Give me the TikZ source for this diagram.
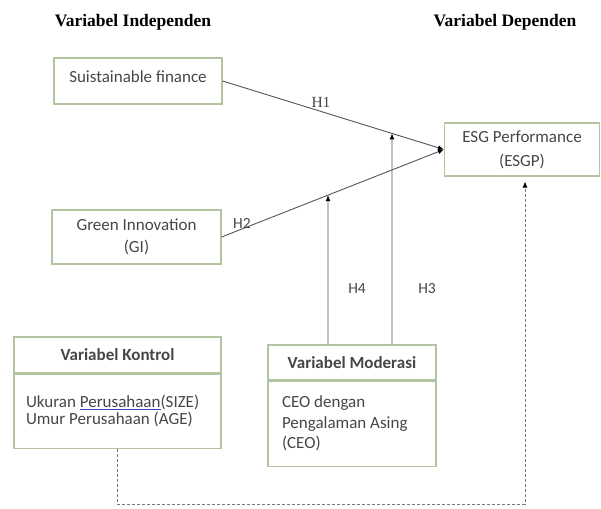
\documentclass[tikz,border=0pt]{standalone}
\usepackage{fontspec}
\setmainfont{Carlito}
\newfontfamily\headfont{Liberation Serif}
\usetikzlibrary{arrows.meta,positioning,calc}
\definecolor{boxgreen}{RGB}{178,196,160}
\definecolor{linegray}{RGB}{85,85,85}
\definecolor{textgray}{RGB}{70,70,70}
\definecolor{ulblue}{RGB}{60,70,190}
% blue spell-check underline
\newcommand{\blueul}[1]{\setbox0\hbox{#1}\rlap{\color{ulblue}\rule[-2.5pt]{\wd0}{0.7pt}}\box0}

\begin{document}
\begin{tikzpicture}[x=1pt,y=1pt,
    varbox/.style={rectangle,draw=boxgreen,line width=1.1pt,inner sep=0pt,text=textgray,
        font=\fontsize{17}{22}\selectfont,align=center},
    headbox/.style={varbox,font=\fontsize{17}{20}\selectfont\bfseries},
    bodybox/.style={varbox,align=flush left,inner xsep=12pt},
    colhead/.style={font=\headfont\fontsize{17.5}{20}\selectfont\bfseries},
    hlabel/.style={text=textgray,font=\fontsize{15.5}{18}\selectfont},
    hyp/.style={draw=linegray,line width=0.9pt,-{Latex[length=6pt,width=5pt,fill=black,color=black]}},
    ctrl/.style={draw=linegray!80,line width=0.8pt,dash pattern=on 3pt off 2pt,-{Latex[length=6pt,width=5pt,fill=black,color=black]}}]
\useasboundingbox (0,0) rectangle (601,-508);

% column headings
\node (headind)[colhead] at (133,-22) {Variabel Independen};
\node (headdep)[colhead] at (505,-22) {Variabel Dependen};

% independent variables
\node (sf)[varbox,minimum width=168pt,minimum height=46pt,text depth=9pt] at (138,-81) {Suistainable finance};
\node (gi)[varbox,minimum width=169pt,minimum height=54pt] at (136.5,-237) {Green Innovation\\(GI)};

% dependent variable
\node (esg)[varbox,minimum width=155pt,minimum height=53pt,font=\fontsize{17}{24}\selectfont] at (522,-149.5) {ESG Performance\\(ESGP)};

% control variables
\node (kontrolhead)[headbox,minimum width=207pt,minimum height=36pt] at (117.5,-355) {Variabel Kontrol};
\node (kontrol)[bodybox,text width=183pt,minimum height=74pt,font=\fontsize{17}{17.5}\selectfont,below=0pt of kontrolhead] {Ukuran \blueul{Perusahaan}(SIZE)\\Umur Perusahaan (AGE)};

% moderating variable
\node (moderasihead)[headbox,minimum width=168pt,minimum height=35pt] at (352,-362.5) {Variabel Moderasi};
\node (moderasi)[bodybox,inner xsep=14pt,text width=140pt,minimum height=85pt,font=\fontsize{17}{20.5}\selectfont,below=0pt of moderasihead] {CEO dengan\\Pengalaman Asing\\(CEO)};

% hypotheses
\draw[hyp] (sf.east) -- (esg.west);
\draw[hyp] (gi.east) -- (esg.west);
\coordinate (h3start) at ($(moderasihead.north)+(40,0)$);
\coordinate (h4start) at ($(moderasihead.north)+(-24,0)$);
\draw[hyp] (h3start) -- (intersection of h3start--{$(h3start)+(0,10)$} and sf.east--esg.west);
\draw[hyp] (h4start) -- (intersection of h4start--{$(h4start)+(0,10)$} and gi.east--esg.west);

\node (h1)[hlabel,font=\headfont\fontsize{15.5}{18}\selectfont] at (321,-102) {H1};
\node (h2)[hlabel] at (242,-223) {H2};
\node (h4)[hlabel] at (357,-289) {H4};
\node (h3)[hlabel] at (427,-289) {H3};

% control path
\coordinate (corner) at (525,-504);
\draw[ctrl] (kontrol.south) |- (corner) -- ($(corner |- esg.south)+(0,-5)$);
\end{tikzpicture}
\end{document}
